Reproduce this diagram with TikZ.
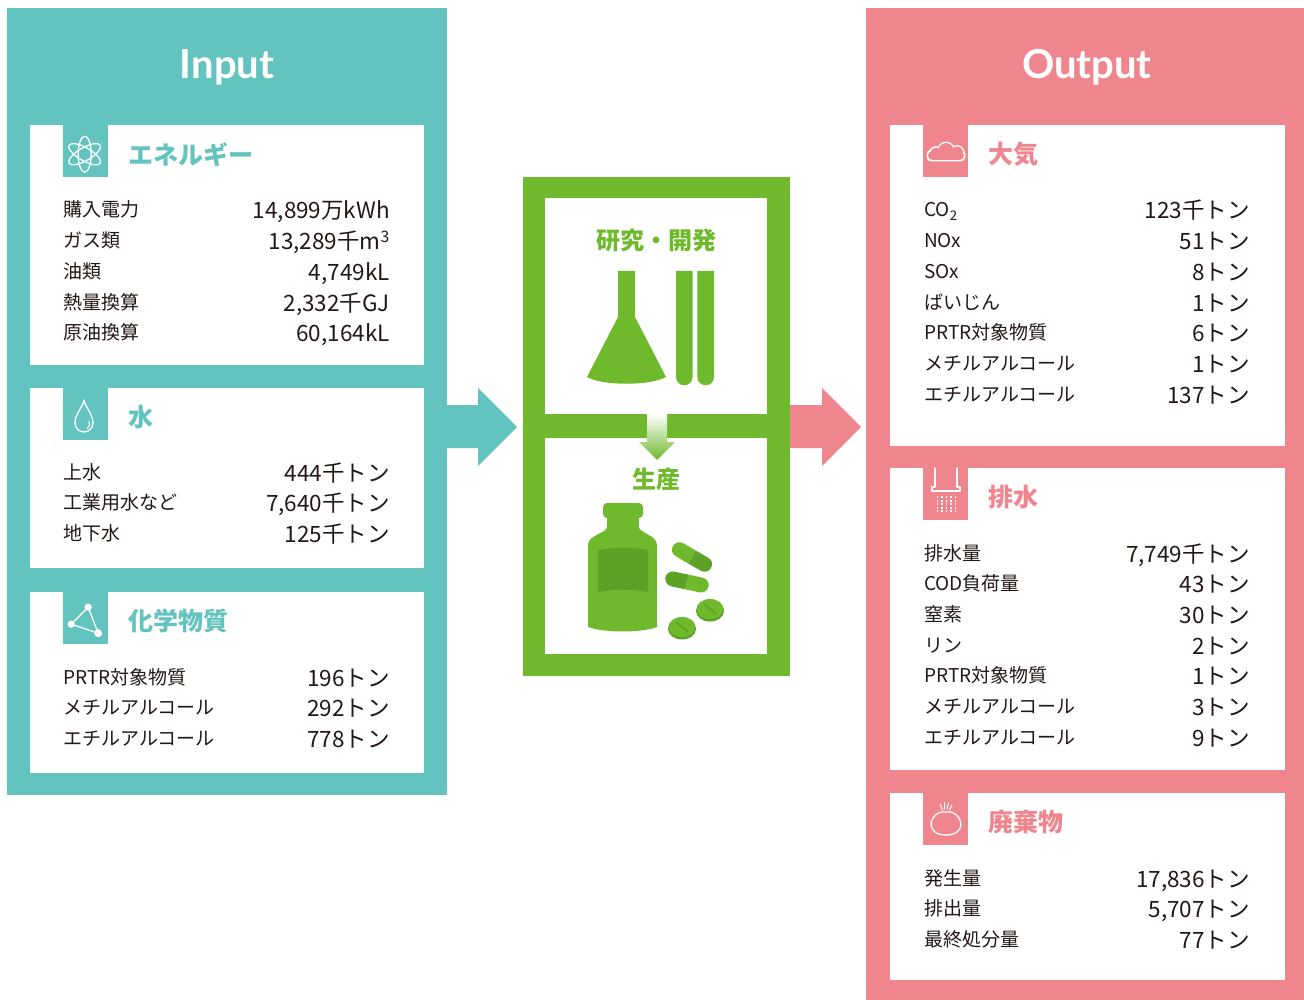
\documentclass[tikz,border=0pt]{standalone}
\usepackage{fontspec}
\setmainfont{Noto Sans CJK JP}
\newfontfamily\titlefont{Lato}
\usetikzlibrary{positioning}

\definecolor{inteal}{HTML}{63C3BE}
\definecolor{outpink}{HTML}{EF868D}
\definecolor{labgreen}{HTML}{6FB92C}
\definecolor{labgreendk}{HTML}{5CA226}
\definecolor{itemtext}{HTML}{231815}

\begin{document}
\begin{tikzpicture}[
    x=1pt, y=-1pt,
    panel/.style={rectangle, inner sep=0pt, anchor=north west},
    card/.style={rectangle, fill=white, inner sep=0pt, anchor=north west},
    badge/.style={rectangle, inner sep=0pt, anchor=north west, minimum width=45, minimum height=52},
    paneltitle/.style={text=white, inner sep=0pt, font=\titlefont\bfseries\fontsize{40}{40}\selectfont},
    cardhead/.style={anchor=west, inner sep=0pt, yshift=-3pt, font=\bfseries\fontsize{25}{25}\selectfont},
    labhead/.style={inner sep=0pt, text=labgreen, font=\bfseries\fontsize{24}{24}\selectfont},
    item/.style={inner sep=0pt, anchor=base west, text=itemtext, font=\fontsize{19}{19}\selectfont},
    amount/.style={inner sep=0pt, anchor=base east, text=itemtext, font=\fontsize{22.5}{22.5}\selectfont},
    icon/.style={draw=white, line width=1.3pt, line cap=round, line join=round}
  ]
  \useasboundingbox (0,0) rectangle (1304,1000);

  % big panels
  \node[panel, fill=inteal, minimum width=440, minimum height=787] (inpanel) at (7,8) {};
  \node[panel, fill=outpink, minimum width=438, minimum height=992] (outpanel) at (866,8) {};
  \node[panel, fill=labgreen, minimum width=267, minimum height=499] (lab) at (523,177) {};
  \node[card, minimum width=222, minimum height=216] (research) at (545,198) {};
  \node[card, minimum width=222, minimum height=216] (production) at (545,438) {};

  \node[paneltitle] (intitle) at (227,67) {Input};
  \node[paneltitle] (outtitle) at (1087,67) {Output};

  % block arrows between the panels
  \fill[inteal] (447,405) -- (478,405) -- (478,388) -- (517,427) -- (478,466) -- (478,448) -- (447,448) -- cycle;
  \fill[outpink] (790,405) -- (822,405) -- (822,388) -- (861,427) -- (822,466) -- (822,448) -- (790,448) -- cycle;

  % ---- input cards ----
  \node[card, minimum width=394, minimum height=240] (energy) at (30,125) {};
  \node[card, minimum width=394, minimum height=180] (water) at (30,388) {};
  \node[card, minimum width=394, minimum height=181] (chem) at (30,592) {};

  \node[badge, fill=inteal] (enbadge) at ([xshift=33]energy.north west) {};
  \node[badge, fill=inteal] (wabadge) at ([xshift=33]water.north west) {};
  \node[badge, fill=inteal] (chbadge) at ([xshift=33]chem.north west) {};

  \node[cardhead, text=inteal, right=20 of enbadge] (enhead) {エネルギー};
  \node[cardhead, text=inteal, right=20 of wabadge] (wahead) {水};
  \node[cardhead, text=inteal, right=20 of chbadge] (chhead) {化学物質};

  \foreach \lab/\val [count=\i] in {購入電力/{14,899万kWh}, ガス類/{13,289千m\textsuperscript{3}},
      油類/{4,749kL}, 熱量換算/{2,332千GJ}, 原油換算/{60,164kL}}{
    \node[item] (en-l\i) at (63,186.3+30.7*\i) {\lab};
    \node[amount] (en-v\i) at (390,188.3+30.7*\i) {\val};
  }
  \foreach \lab/\val [count=\i] in {上水/444千トン, 工業用水など/{7,640千トン}, 地下水/125千トン}{
    \node[item] (wa-l\i) at (63,448.3+30.7*\i) {\lab};
    \node[amount] (wa-v\i) at (390,450.3+30.7*\i) {\val};
  }
  \foreach \lab/\val [count=\i] in {PRTR対象物質/196トン, メチルアルコール/292トン, エチルアルコール/778トン}{
    \node[item] (ch-l\i) at (63,653.3+30.7*\i) {\lab};
    \node[amount] (ch-v\i) at (390,655.3+30.7*\i) {\val};
  }

  % atom
  \foreach \a in {30,90,150}
    \draw[icon] (enbadge.center) ++(-1,3) ellipse[x radius=18, y radius=6.5, rotate=\a];
  % drop
  \begin{scope}[shift={(84,414)}]
    \draw[icon] (0,-14) .. controls (-1,-7) and (-9,0) .. (-9,9)
      arc[start angle=180, end angle=0, radius=9] .. controls (9,0) and (1,-7) .. cycle;
    \draw[icon, line width=1pt] (5,7) .. controls (6,10) and (5.5,12.5) .. (3.5,14.5);
  \end{scope}
  % molecule
  \begin{scope}[shift={(chbadge.center)}]
    \draw[icon] (2.5,-11) -- (-14.5,6) -- (12.5,15) -- cycle;
    \fill[white] (2.5,-11) circle[radius=3.6] (-14.5,6) circle[radius=3.6] (12.5,15) circle[radius=4];
  \end{scope}

  % ---- lab ----
  \node[labhead] (rdhead) at (656,240) {研究・開発};
  \node[labhead] (prodhead) at (656,479) {生産};

  % flask and test tubes
  \fill[labgreen] (618,271) -- (635,271) -- (635,317) -- (666,377)
    .. controls (650,386) and (603,386) .. (587,377) -- (618,317) -- cycle;
  \fill[labgreen] (676,271) -- (676,377) arc[start angle=180, end angle=0, radius=8.3] -- (692.6,271) -- cycle;
  \fill[labgreen] (697.4,271) -- (697.4,377) arc[start angle=180, end angle=0, radius=8.3] -- (714,271) -- cycle;

  % arrow from research down to production
  \shade[top color=white, bottom color=labgreen] (647,414) -- (667,414) -- (667,442) -- (675,442)
    -- (657,460) -- (639,442) -- (647,442) -- cycle;

  % bottle
  \fill[labgreen, rounded corners=4] (603,503) rectangle (643,518);
  \fill[labgreen] (607,516) rectangle (639,528);
  \fill[labgreen] (588,545) .. controls (588,535) and (607,533) .. (607,527) -- (639,527)
    .. controls (639,533) and (657,535) .. (657,545) -- (657,627)
    .. controls (640,633) and (605,633) .. (588,627) -- cycle;
  \fill[labgreendk] (598,550) .. controls (615,547) and (631,547) .. (648,550) -- (648,592)
    .. controls (631,589) and (615,589) .. (598,592) -- cycle;

  % capsules
  \begin{scope}[shift={(692,557)}, rotate=-30]
    \fill[labgreen] (0,7.5) -- (-14.5,7.5) arc[start angle=90, end angle=270, radius=7.5] -- (0,-7.5) -- cycle;
    \fill[labgreendk] (0,-7.5) -- (14.5,-7.5) arc[start angle=-90, end angle=90, radius=7.5] -- (0,7.5) -- cycle;
  \end{scope}
  \begin{scope}[shift={(687,582)}, rotate=-12]
    \fill[labgreendk] (0,7.5) -- (-14.5,7.5) arc[start angle=90, end angle=270, radius=7.5] -- (0,-7.5) -- cycle;
    \fill[labgreen] (0,-7.5) -- (14.5,-7.5) arc[start angle=-90, end angle=90, radius=7.5] -- (0,7.5) -- cycle;
  \end{scope}
  % tablets
  \foreach \cx/\cy in {710/609, 682/627}{
    \fill[labgreendk] (\cx,\cy+2) ellipse[x radius=14, y radius=10.5];
    \fill[labgreen] (\cx,\cy) ellipse[x radius=13.5, y radius=10];
    \draw[labgreendk, line width=1.5pt] (\cx-6,\cy-5) -- (\cx+6,\cy+5);
  }

  % ---- output cards ----
  \node[card, minimum width=395, minimum height=321] (air) at (890,125) {};
  \node[card, minimum width=395, minimum height=302] (drain) at (890,468) {};
  \node[card, minimum width=395, minimum height=187] (waste) at (890,793) {};

  \node[badge, fill=outpink] (airbadge) at ([xshift=33]air.north west) {};
  \node[badge, fill=outpink] (drbadge) at ([xshift=33]drain.north west) {};
  \node[badge, fill=outpink] (wsbadge) at ([xshift=33]waste.north west) {};

  \node[cardhead, text=outpink, right=20 of airbadge] (airhead) {大気};
  \node[cardhead, text=outpink, right=20 of drbadge] (drhead) {排水};
  \node[cardhead, text=outpink, right=20 of wsbadge] (wshead) {廃棄物};

  \foreach \lab/\val [count=\i] in {CO\textsubscript{2}/123千トン, NOx/51トン, SOx/8トン, ばいじん/1トン,
      PRTR対象物質/6トン, メチルアルコール/1トン, エチルアルコール/137トン}{
    \node[item] (air-l\i) at (924,186.3+30.7*\i) {\lab};
    \node[amount] (air-v\i) at (1250,188.3+30.7*\i) {\val};
  }
  \foreach \lab/\val [count=\i] in {排水量/{7,749千トン}, COD負荷量/43トン, 窒素/30トン, リン/2トン,
      PRTR対象物質/1トン, メチルアルコール/3トン, エチルアルコール/9トン}{
    \node[item] (dr-l\i) at (924,529.3+30.7*\i) {\lab};
    \node[amount] (dr-v\i) at (1250,531.3+30.7*\i) {\val};
  }
  \foreach \lab/\val [count=\i] in {発生量/{17,836トン}, 排出量/{5,707トン}, 最終処分量/77トン}{
    \node[item] (ws-l\i) at (924,854.3+30.7*\i) {\lab};
    \node[amount] (ws-v\i) at (1250,856.3+30.7*\i) {\val};
  }

  % cloud: white copy a bit larger, pink copy on top
  \foreach \g/\c in {1.4/white, 0/outpink}{
    \fill[\c, rounded corners=4.5] (928-\g,151-\g) rectangle (964+\g,160+\g);
    \fill[\c] (936,153) circle[radius=5.5+\g] (946,150.5) circle[radius=7.5+\g] (957,152.5) circle[radius=6+\g];
  }
  % drain
  \draw[icon] (935,468) -- (935,487) -- (932,487) -- (932,491) -- (960,491) -- (960,487) -- (957,487) -- (957,468);
  \foreach \x in {937.5,942,946.5,951,955.5}
    \draw[white, line width=1.3pt, dash pattern=on 2pt off 1.6pt] (\x,496) -- (\x,513);
  % waste bag
  \draw[icon] (941,812) .. controls (928,816) and (926,835) .. (946,835)
    .. controls (966,835) and (964,816) .. (951,812) -- cycle;
  \draw[icon, line width=1pt] (940,804) -- (942.5,810) (944.5,802.5) -- (944.5,809)
    (948.5,803) -- (947,809) (952,805) -- (949.5,810);
\end{tikzpicture}
\end{document}
